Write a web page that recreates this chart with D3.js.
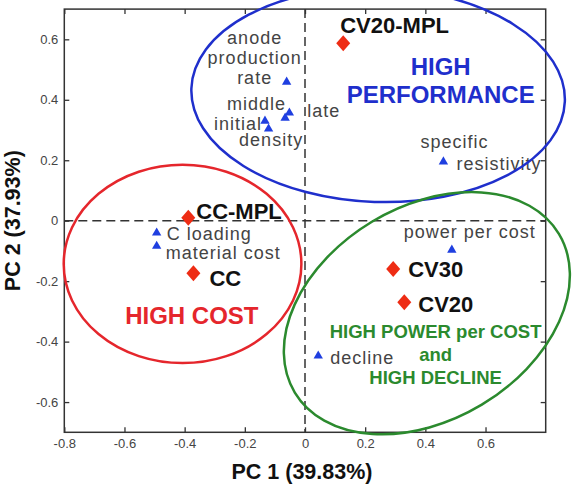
<!DOCTYPE html>
<html>
<head>
<meta charset="utf-8">
<script src="https://cdnjs.cloudflare.com/ajax/libs/d3/7.8.5/d3.min.js"></script>
<style>
body { margin: 0; background: #fff; }
svg { display: block; }
</style>
</head>
<body>
<div id="chart-area"></div>
<script>
// samples (red diamonds)
var sampleNames = ["CV20-MPL", "CC-MPL", "CC", "CV30", "CV20"];
var samplePC1 = [0.127, -0.388, -0.371, 0.293, 0.330];
var samplePC2 = [0.587, 0.010, -0.174, -0.160, -0.270];

// variables (blue triangles)
var variableLines = [["anode", "production", "rate"], ["middle"], ["late"], ["initial"], ["density"],
    ["specific", "resistivity"], ["power per cost"], ["decline"], ["C loading"], ["material cost"]];
var variablePC1 = [-0.061, -0.066, -0.052, -0.133, -0.121, 0.460, 0.488, 0.044, -0.493, -0.493];
var variablePC2 = [0.459, 0.340, 0.357, 0.330, 0.304, 0.195, -0.097, -0.447, -0.040, -0.084];

// groups (ellipses), centre and radii in PC units
var groupLines = [["HIGH", "PERFORMANCE"], ["HIGH COST"], ["HIGH POWER per COST", "and", "HIGH DECLINE"]];
var groupCx = [0.243, -0.407, 0.405];
var groupCy = [0.416, -0.143, -0.306];
var groupRx = [0.621, 0.395, 0.512];
var groupRy = [0.354, 0.328, 0.353];

// tick labels
var xTicks = [-0.8, -0.6, -0.4, -0.2, 0, 0.2, 0.4, 0.6];
var yTicks = [-0.6, -0.4, -0.2, 0, 0.2, 0.4, 0.6];
var xTitle = "PC 1 (39.83%)";
var yTitle = "PC 2 (37.93%)";

// ---- layout (not data) ----
var groupColor = ["#1f2fcc", "#e5262c", "#2b8a2e"];
var groupAngle = [2, 0, -31];
var groupLabelAt = [[0.451, 0.482], [-0.376, -0.342], [0.434, -0.389]];
var groupFont = [24, 24, 18.5];
var groupLineGap = [28.3, 0, 23];

var sampleOffset = [[-3, -10], [8, 1], [16, 13], [15, 8], [14, 10]];
// per variable: anchor, and [dx, dy] for each line
var variableAnchor = ["middle", "end", "start", "end", "start", "start", "start", "start", "start", "start"];
var variableOffset = [
    [[-32, -38], [-32, -18], [-32, 2]],
    [[1, -8]],
    [[18, 4]],
    [[-3, 9]],
    [[-29.5, 17]],
    [[-23, -14], [13, 8]],
    [[-48, -12]],
    [[12, 8]],
    [[10, 7.5]],
    [[9, 12.5]]
];

var width = 573, height = 486;

var svg = d3.select("#chart-area").append("svg")
    .attr("width", width)
    .attr("height", height);

var x = d3.scaleLinear()
    .domain([-0.8, 0.8])
    .range([64.3, 545.7]);

var y = d3.scaleLinear()
    .domain([-0.7, 0.7])
    .range([432.3, 9.1]);

var fmt = function(d) { return d === 0 ? "0" : String(+d.toFixed(1)); };

// AXES (ticks point inwards on all four sides)
svg.append("g")
    .attr("transform", "translate(0," + y(-0.7) + ")")
    .call(d3.axisBottom(x).tickValues(xTicks).tickSizeInner(-5).tickSizeOuter(0).tickPadding(6.5).tickFormat(fmt));

svg.append("g")
    .attr("transform", "translate(" + x(-0.8) + ",0)")
    .call(d3.axisLeft(y).tickValues(yTicks).tickSizeInner(-5).tickSizeOuter(0).tickPadding(6).tickFormat(fmt));

svg.append("g")
    .attr("transform", "translate(0," + y(0.7) + ")")
    .call(d3.axisTop(x).tickValues(xTicks).tickSizeInner(-5).tickSizeOuter(0).tickFormat(""));

svg.append("g")
    .attr("transform", "translate(" + x(0.8) + ",0)")
    .call(d3.axisRight(y).tickValues(yTicks).tickSizeInner(-5).tickSizeOuter(0).tickFormat(""));

svg.selectAll(".domain").remove();
svg.selectAll(".tick line").attr("stroke", "#333").attr("stroke-width", 1.3);
svg.selectAll(".tick text")
    .attr("font-family", "Liberation Sans, Arial, sans-serif")
    .attr("font-size", 13)
    .attr("fill", "#444");

// frame
svg.append("rect")
    .attr("x", x(-0.8))
    .attr("y", y(0.7))
    .attr("width", x(0.8) - x(-0.8))
    .attr("height", y(-0.7) - y(0.7))
    .attr("fill", "none")
    .attr("stroke", "#333")
    .attr("stroke-width", 1.5);

// dashed zero lines
svg.append("line")
    .attr("x1", x(-0.8)).attr("x2", x(0.8))
    .attr("y1", y(0)).attr("y2", y(0))
    .attr("stroke", "#333").attr("stroke-width", 1.5)
    .attr("stroke-dasharray", "9,5");

svg.append("line")
    .attr("x1", x(0)).attr("x2", x(0))
    .attr("y1", y(0.7)).attr("y2", y(-0.7))
    .attr("stroke", "#333").attr("stroke-width", 1.5)
    .attr("stroke-dasharray", "9,5");

// axis titles
svg.append("text")
    .attr("x", 302)
    .attr("y", 479)
    .attr("text-anchor", "middle")
    .attr("font-family", "Liberation Sans, Arial, sans-serif")
    .attr("font-size", 21.5)
    .attr("font-weight", "bold")
    .attr("fill", "#111")
    .text(xTitle);

svg.append("text")
    .attr("transform", "translate(19.5," + y(0) + ") rotate(-90)")
    .attr("text-anchor", "middle")
    .attr("font-family", "Liberation Sans, Arial, sans-serif")
    .attr("font-size", 21.5)
    .attr("font-weight", "bold")
    .attr("fill", "#111")
    .text(yTitle);

// VARIABLE LABELS
variableLines.forEach(function(lines, i) {
    var px = x(variablePC1[i]), py = y(variablePC2[i]);
    lines.forEach(function(line, j) {
        svg.append("text")
            .attr("x", px + variableOffset[i][j][0])
            .attr("y", py + variableOffset[i][j][1])
            .attr("text-anchor", variableAnchor[i])
            .attr("font-family", "Liberation Sans, Arial, sans-serif")
            .attr("font-size", 18)
            .attr("letter-spacing", 1)
            .attr("fill", "#444")
            .text(line);
    });
});

// SAMPLE LABELS
sampleNames.forEach(function(name, i) {
    svg.append("text")
        .attr("x", x(samplePC1[i]) + sampleOffset[i][0])
        .attr("y", y(samplePC2[i]) + sampleOffset[i][1])
        .attr("font-family", "Liberation Sans, Arial, sans-serif")
        .attr("font-size", 22)
        .attr("font-weight", "bold")
        .attr("fill", "#111")
        .text(name);
});

// GROUP LABELS
groupLines.forEach(function(lines, i) {
    lines.forEach(function(line, j) {
        svg.append("text")
            .attr("x", x(groupLabelAt[i][0]))
            .attr("y", y(groupLabelAt[i][1]) + j * groupLineGap[i])
            .attr("text-anchor", "middle")
            .attr("font-family", "Liberation Sans, Arial, sans-serif")
            .attr("font-size", groupFont[i])
            .attr("font-weight", "bold")
            .attr("fill", groupColor[i])
            .text(line);
    });
});

// triangles
svg.selectAll(".variable")
    .data(variablePC1)
    .enter()
    .append("path")
    .attr("class", "variable")
    .attr("d", d3.symbol(d3.symbolTriangle, 38))
    .attr("transform", function(d, i) { return "translate(" + x(d) + "," + y(variablePC2[i]) + ")"; })
    .attr("fill", "#1f3fe0");

// diamonds
svg.selectAll(".sample")
    .data(samplePC1)
    .enter()
    .append("path")
    .attr("class", "sample")
    .attr("d", "M0,-8L7,0L0,8L-7,0Z")
    .attr("transform", function(d, i) { return "translate(" + x(d) + "," + y(samplePC2[i]) + ")"; })
    .attr("fill", "#ee2c14");

// ELLIPSES
groupCx.forEach(function(cx, i) {
    var px = x(cx), py = y(groupCy[i]);
    svg.append("ellipse")
        .attr("cx", px)
        .attr("cy", py)
        .attr("rx", x(cx + groupRx[i]) - px)
        .attr("ry", y(groupCy[i] - groupRy[i]) - py)
        .attr("transform", "rotate(" + groupAngle[i] + "," + px + "," + py + ")")
        .attr("fill", "none")
        .attr("stroke", groupColor[i])
        .attr("stroke-width", 2.5);
});
</script>
</body>
</html>
